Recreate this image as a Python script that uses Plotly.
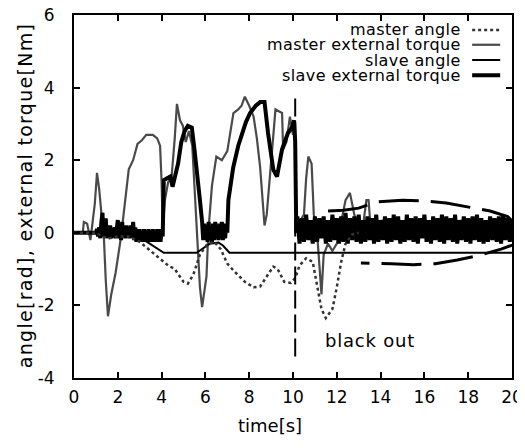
import plotly.graph_objects as go

# ---------------- data ----------------
master_angle_t = [0, 1.0, 1.3, 1.6, 2.0, 2.5, 3.0, 3.5, 4.0, 4.3, 4.6, 5.0, 5.2, 5.45, 5.75,
                  6.1, 6.4, 6.7, 7.0, 7.3, 7.8, 8.2, 8.5, 8.8, 9.1, 9.3, 9.6, 9.9, 10.1,
                  10.3, 10.6, 10.9, 11.1, 11.3, 11.5, 11.8, 12.0, 12.2, 12.4, 12.7, 13.0]
master_angle = [0, 0, -0.1, -0.15, -0.1, -0.1, -0.25, -0.5, -0.75, -0.9, -1.0, -1.35, -1.4, -1.15, -0.6,
                -0.3, -0.25, -0.45, -0.85, -1.05, -1.35, -1.5, -1.48, -1.2, -0.93, -1.0, -1.35, -1.38, -1.25,
                -0.9, -0.7, -0.8, -1.5, -2.1, -2.35, -2.1, -1.5, -0.8, -0.3, -0.05, 0]

master_torque_t = [0, 0.4, 0.45, 0.6, 0.75, 0.8, 0.95, 1.05, 1.15, 1.25, 1.37, 1.45, 1.55, 1.7, 1.9,
                   2.15, 2.37, 2.5, 2.7, 2.9, 3.1, 3.3, 3.6, 3.8, 3.93, 4.0, 4.05, 4.15, 4.3, 4.45,
                   4.6, 4.7, 4.84, 4.97, 5.1, 5.25, 5.4, 5.55, 5.65, 5.75, 5.85, 5.95, 6.05, 6.13,
                   6.3, 6.5, 6.75, 7.0, 7.15, 7.28, 7.5, 7.65, 7.8, 8.0, 8.2, 8.35, 8.5, 8.6, 8.7,
                   8.8, 8.95, 9.1, 9.2, 9.35, 9.5, 9.55, 9.7, 9.86, 10.0, 10.08, 10.15, 10.3, 10.5,
                   10.6, 10.7, 10.85, 10.95, 11.1, 11.2, 11.3, 11.4, 11.6, 11.8, 12.0, 12.2, 12.4,
                   12.6, 12.8, 13.0, 13.2, 13.35, 13.45, 13.55, 14.0, 20.0]
master_torque = [0, 0, 0.3, 0.25, -0.2, 0.1, 0.8, 1.65, 1.2, 0.55, -0.2, -1.3, -2.3, -1.7, -1.1,
                 -0.1, 1.1, 1.75, 2.0, 2.45, 2.55, 2.7, 2.7, 2.6, 2.4, 1.4, 0.1, 0.9, 1.4, 1.5,
                 2.6, 3.55, 3.1, 2.95, 2.5, 2.8, 2.4, 0.8, -0.5, -1.5, -2.05, -1.6, -1.2, 0.0,
                 1.3, 2.1, 2.0, 2.25, 2.8, 3.3, 3.4, 3.5, 3.75, 3.5, 3.2, 2.6, 1.8, 0.9, 0.2,
                 0.5, 1.5, 2.6, 3.4, 3.35, 3.3, 2.3, 2.5, 3.2, 2.7, 3.0, 0.0, 0.3, 0.5,
                 1.5, 2.1, 1.9, 0.5, 0.0, -0.8, -1.7, -0.6, -0.3, -0.5, -0.3, 0.3, 0.9,
                 1.1, 0.5, 0.1, 0.2, 0.9, 0.9, 0.1, 0.1, 0.1]

slave_angle_t = [0, 2.7, 3.0, 4.1, 5.6, 5.9, 6.2, 6.6, 6.8, 7.1, 20.0]
slave_angle = [0, 0, -0.12, -0.55, -0.55, -0.42, -0.3, -0.27, -0.35, -0.55, -0.55]

# slave external torque: smooth parts and sampled vibration parts
slave_torque_start_t = [0, 1.0]
slave_torque_start = [0, 0]
vib1_t0, vib1_dt = 1.05, 0.05
vib1 = [0.1, -0.1, 0.15, -0.15, 0.3, 0.55, -0.1, 0.2, 0.4, -0.15,
        0.15, -0.1, 0.2, -0.15, 0.1, -0.1, 0.15, -0.15, 0.2, 0.35,
        -0.15, 0.15, -0.2, 0.3, -0.1, 0.15, -0.15, 0.2, -0.1, 0.15,
        -0.15, 0.2, -0.1, 0.3, -0.2, 0.15, -0.25, 0.1, -0.25, 0.1,
        -0.25, 0.05, -0.25, 0.1, -0.25, 0.05, -0.25, 0.1, -0.25, 0.05,
        -0.25, 0.1, -0.25, 0.05, -0.25, 0.1, -0.25, 0.1, -0.25, 0.05]
slave_torque_mid1_t = [4.05, 4.1, 4.25, 4.4, 4.5, 4.65, 4.75, 4.9, 5.05, 5.2, 5.38, 5.5, 5.62, 5.75, 5.85]
slave_torque_mid1 = [-0.1, 1.45, 1.5, 1.55, 1.27, 1.6, 1.9, 2.5, 2.8, 2.95, 2.9, 2.3, 1.5, 0.9, 0.3]
vib2_t0, vib2_dt = 5.9, 0.05
vib2 = [-0.2, 0.25, -0.2, 0.2, -0.25, 0.3, -0.2, 0.2, -0.25, 0.25, -0.2,
        0.3, -0.15, 0.2, -0.2, 0.25, -0.15, 0.3, -0.2, 0.25, -0.15, 0.2]
slave_torque_mid2_t = [7.0, 7.05, 7.27, 7.5, 7.67, 7.85, 8.04, 8.3, 8.5, 8.7, 8.86, 9.0, 9.1,
                       9.27, 9.5, 9.77, 9.95, 10.05, 10.1, 10.15]
slave_torque_mid2 = [0.0, 0.9, 1.8, 2.4, 2.75, 3.05, 3.3, 3.5, 3.6, 3.6, 2.75, 2.1, 1.74,
                     1.55, 2.3, 2.75, 2.9, 3.1, 2.5, 0.0]
vib3_t0, vib3_dt = 10.2, 0.1
vib3 = [0.45, -0.3, 0.4, -0.25, 0.5, -0.2, 0.35, -0.3, 0.45, -0.25,
        0.4, -0.15, 0.45, -0.3, 0.35, -0.25, 0.5, -0.2, 0.4, -0.3,
        0.45, -0.25, 0.55, -0.3, 0.4, -0.2, 0.45, -0.25, 0.5, -0.3,
        0.35, -0.25, 0.45, -0.2, 0.4, -0.3, 0.5, -0.25, 0.35, -0.2,
        0.45, -0.3, 0.4, -0.25, 0.5, -0.2, 0.45, -0.3, 0.35, -0.25,
        0.5, -0.2, 0.4, -0.25, 0.45, -0.3, 0.4, -0.15, 0.5, -0.25,
        0.35, -0.3, 0.45, -0.2, 0.4, -0.25, 0.5, -0.3, 0.45, -0.2,
        0.4, -0.25, 0.5, -0.3, 0.35, -0.2, 0.45, -0.25, 0.4, -0.3,
        0.45, -0.2, 0.5, -0.25, 0.4, -0.3, 0.35, -0.25, 0.45, -0.2,
        0.4, -0.25, 0.45, -0.3, 0.5, -0.2, 0.4, -0.25, 0.35]

# hand-drawn dashed ellipse around the vibration after black out
ellipse_t = [11.6, 12.3, 13.0, 13.8, 15.0, 16.0, 17.0, 18.0, 19.0, 19.8, 20.2, 20.35,
             20.2, 19.5, 18.5, 17.5, 16.5, 15.5, 14.5, 13.1]
ellipse_y = [0.6, 0.62, 0.68, 0.85, 0.9, 0.88, 0.82, 0.72, 0.6, 0.45, 0.2, -0.05,
             -0.3, -0.45, -0.62, -0.75, -0.85, -0.88, -0.85, -0.83]

blackout_t = [10.1, 10.1]
blackout_y = [3.7, -3.5]

x_ticks = [0, 2, 4, 6, 8, 10, 12, 14, 16, 18, 20]
y_ticks = [-4, -2, 0, 2, 4, 6]

legend_labels = ["master angle", "master external torque", "slave angle", "slave external torque"]


def sampled(t0, dt, vals):
    return [round(t0 + i * dt, 4) for i in range(len(vals))]


slave_torque_t = (slave_torque_start_t + sampled(vib1_t0, vib1_dt, vib1) + slave_torque_mid1_t
                  + sampled(vib2_t0, vib2_dt, vib2) + slave_torque_mid2_t
                  + sampled(vib3_t0, vib3_dt, vib3))
slave_torque = (slave_torque_start + vib1 + slave_torque_mid1 + vib2 + slave_torque_mid2 + vib3)

# ---------------- styles ----------------
styles = {
    "master angle": dict(color="#333333", width=2.5, dash="dot"),
    "master external torque": dict(color="#4a4a4a", width=2.2, dash="solid"),
    "slave angle": dict(color="#000000", width=2, dash="solid"),
    "slave external torque": dict(color="#000000", width=4, dash="solid"),
}

FONT = "DejaVu Sans"

fig = go.Figure()
fig.add_trace(go.Scatter(x=master_torque_t, y=master_torque, mode="lines",
                         line=styles["master external torque"], name="master external torque"))
fig.add_trace(go.Scatter(x=slave_torque_t, y=slave_torque, mode="lines",
                         line=styles["slave external torque"], name="slave external torque"))
fig.add_trace(go.Scatter(x=slave_angle_t, y=slave_angle, mode="lines",
                         line=styles["slave angle"], name="slave angle"))
fig.add_trace(go.Scatter(x=master_angle_t, y=master_angle, mode="lines",
                         line=styles["master angle"], name="master angle"))
fig.add_trace(go.Scatter(x=ellipse_t, y=ellipse_y, mode="lines",
                         line=dict(color="black", width=3, dash="40px,12px"), showlegend=False))
fig.add_trace(go.Scatter(x=blackout_t, y=blackout_y, mode="lines",
                         line=dict(color="black", width=2, dash="18px,6px"), showlegend=False))

# custom legend (text on the left, sample on the right, as in the reference)
legend_rows_y = [0.959, 0.918, 0.876, 0.834]
for lab, yy in zip(legend_labels, legend_rows_y):
    fig.add_annotation(x=0.886, y=yy, xref="paper", yref="paper",
                       text='<span style="letter-spacing:0.4px">' + lab + '</span>', showarrow=False,
                       xanchor="right", yanchor="middle", borderpad=0,
                       font=dict(family=FONT, size=16, color="black"))
    st = styles[lab]
    fig.add_shape(type="line", xref="paper", yref="paper", x0=0.909, x1=0.973, y0=yy, y1=yy,
                  line=dict(color=st["color"], width=st["width"], dash=st["dash"]))

fig.add_annotation(x=13.5, y=-2.96, xref="x", yref="y",
                   text='<span style="letter-spacing:0.8px">black out</span>', showarrow=False,
                   font=dict(family=FONT, size=18, color="black"))
fig.add_annotation(x=0.447, y=-0.13, xref="paper", yref="paper", text="time[s]", showarrow=False,
                   xanchor="center", yanchor="middle", font=dict(family=FONT, size=18, color="black"))
fig.add_annotation(x=-0.11, y=0.503, xref="paper", yref="paper",
                   text='<span style="letter-spacing:1.3px">angle[rad], external torque[Nm]</span>',
                   showarrow=False, textangle=-90, xanchor="center", yanchor="middle",
                   font=dict(family=FONT, size=19, color="black"))

axis_common = dict(showline=True, linewidth=2, linecolor="black", mirror="ticks", ticks="inside",
                   ticklen=6, tickwidth=1.5, tickcolor="black", showgrid=False, zeroline=False,
                   automargin=False, ticklabeloverflow="allow",
                   tickfont=dict(family=FONT, size=17, color="black"))
fig.update_xaxes(range=[0, 20], tickvals=x_ticks, ticktext=[str(v) for v in x_ticks],
                 ticklabelstandoff=3, **axis_common)
fig.update_yaxes(range=[-4, 6], tickvals=y_ticks, ticktext=[str(v) for v in y_ticks],
                 ticklabelstandoff=14, **axis_common)

# the page body adds an 8px offset, so the figure is sized 8px smaller
fig.update_layout(width=517, height=440, margin=dict(l=66, r=13, t=7, b=70, autoexpand=False),
                  paper_bgcolor="white", plot_bgcolor="white", showlegend=False)

fig.write_html("out.html")
